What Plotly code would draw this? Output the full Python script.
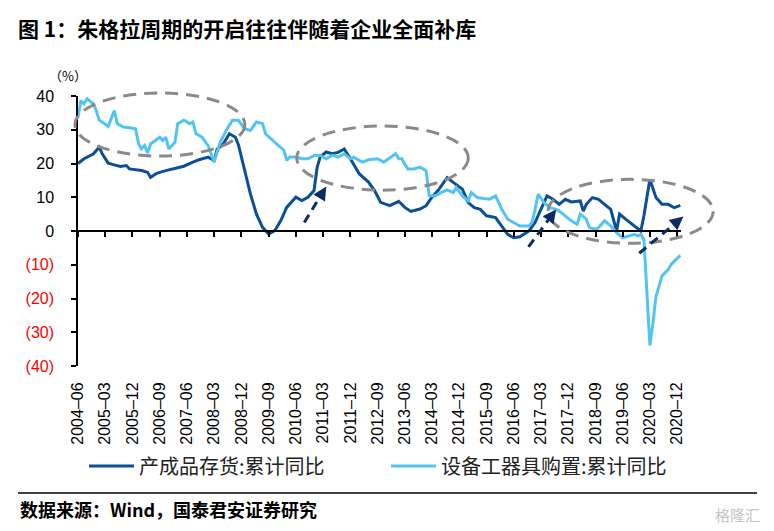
import plotly.graph_objects as go
import pandas as pd

# ---------------- data ----------------
inv_dates = ["2004-06", "2004-08", "2004-11", "2005-01", "2005-02", "2005-04", "2005-06", "2005-08",
             "2005-10", "2005-11", "2006-03", "2006-05", "2006-06", "2006-08", "2006-11", "2007-02",
             "2007-05", "2007-08", "2007-10", "2008-01", "2008-03", "2008-04", "2008-06", "2008-08",
             "2008-10", "2008-11", "2009-01", "2009-03", "2009-05", "2009-07", "2009-09", "2009-11",
             "2010-01", "2010-03", "2010-06", "2010-08", "2010-10", "2010-12", "2011-01", "2011-02",
             "2011-04", "2011-06", "2011-08", "2011-10", "2011-12", "2012-03", "2012-06", "2012-08",
             "2012-10", "2013-01", "2013-04", "2013-06", "2013-08", "2013-11", "2014-01", "2014-03",
             "2014-05", "2014-06", "2014-08", "2014-10", "2015-01", "2015-03", "2015-05", "2015-07",
             "2015-09", "2015-12", "2016-02", "2016-04", "2016-06", "2016-08", "2016-11", "2017-01",
             "2017-03", "2017-05", "2017-07", "2017-09", "2017-11", "2018-01", "2018-04", "2018-05",
             "2018-06", "2018-08", "2018-10", "2018-12", "2019-02", "2019-04", "2019-05", "2019-07",
             "2019-10", "2019-12", "2020-01", "2020-03", "2020-05", "2020-07", "2020-09", "2020-11",
             "2021-01"]
inv_values = [20.0, 21.4, 22.8, 24.8, 22.8, 20.1, 19.6, 19.1,
              19.4, 18.4, 17.9, 17.4, 15.9, 17.1, 17.9, 18.6,
              19.2, 20.4, 21.1, 21.9, 20.9, 24.3, 25.8, 28.8,
              27.8, 25.5, 17.9, 11.0, 5.0, 1.1, -0.9, 0.1,
              3.1, 7.0, 10.0, 9.0, 10.0, 12.0, 18.9, 21.9,
              23.4, 22.9, 23.3, 24.3, 21.4, 16.9, 14.5, 12.0,
              8.5, 7.5, 8.8, 7.0, 5.8, 6.5, 7.5, 10.0,
              12.0, 13.4, 15.8, 14.4, 12.4, 8.4, 6.9, 6.4,
              4.5, 4.0, 1.5, -1.0, -2.0, -1.7, 0.0, 2.5,
              6.4, 10.4, 9.4, 7.9, 9.4, 8.6, 8.9, 5.9,
              7.9, 9.9, 9.4, 7.9, 6.4, 0.0, 5.0, 3.5,
              1.5, 0.0, 4.5, 15.3, 9.9, 7.9, 7.9, 6.9,
              7.6]

eq_dates = ["2004-06", "2004-07", "2004-08", "2004-09", "2004-11", "2004-12", "2005-01", "2005-02",
            "2005-04", "2005-05", "2005-06", "2005-07", "2005-09", "2005-11", "2006-01", "2006-02",
            "2006-03", "2006-04", "2006-05", "2006-06", "2006-09", "2006-10", "2006-11", "2006-12",
            "2007-02", "2007-03", "2007-05", "2007-07", "2007-08", "2007-09", "2007-11", "2008-01",
            "2008-03", "2008-04", "2008-05", "2008-07", "2008-09", "2008-11", "2009-01", "2009-03",
            "2009-05", "2009-07", "2009-08", "2009-11", "2010-01", "2010-02", "2010-03", "2010-04",
            "2010-06", "2010-08", "2010-10", "2010-12", "2011-02", "2011-04", "2011-06", "2011-08",
            "2011-10", "2011-12", "2012-01", "2012-04", "2012-06", "2012-09", "2012-11", "2013-03",
            "2013-04", "2013-05", "2013-07", "2013-09", "2013-11", "2014-01", "2014-02", "2014-04",
            "2014-06", "2014-08", "2014-10", "2014-11", "2015-01", "2015-03", "2015-04", "2015-06",
            "2015-08", "2015-10", "2015-12", "2016-02", "2016-04", "2016-06", "2016-08", "2016-11",
            "2016-12", "2017-01", "2017-02", "2017-04", "2017-06", "2017-08", "2017-09", "2017-11",
            "2018-01", "2018-03", "2018-04", "2018-06", "2018-07", "2018-09", "2018-10", "2018-12",
            "2019-02", "2019-04", "2019-06", "2019-08", "2019-10", "2019-11", "2019-12", "2020-01",
            "2020-03", "2020-04", "2020-05", "2020-07", "2020-09", "2020-10", "2021-01"]
eq_values = [33.7, 38.7, 37.7, 39.2, 37.7, 35.7, 32.8, 32.3,
             31.0, 33.2, 35.7, 31.8, 30.8, 30.6, 30.3, 25.8,
             24.3, 25.3, 23.1, 25.8, 27.8, 26.8, 27.8, 24.3,
             26.3, 31.8, 32.8, 31.8, 32.3, 28.8, 27.8, 25.3,
             20.4, 23.4, 26.3, 29.8, 32.8, 32.8, 30.3, 29.8,
             32.3, 31.8, 28.8, 26.3, 24.8, 23.9, 20.9, 21.9,
             21.9, 21.4, 21.4, 22.4, 22.4, 21.4, 22.4, 21.9,
             22.9, 21.4, 21.9, 20.4, 21.1, 21.4, 20.4, 22.9,
             21.4, 21.4, 18.4, 18.4, 18.9, 17.9, 10.5, 10.4,
             11.4, 12.2, 11.4, 12.9, 10.4, 8.9, 11.4, 9.9,
             9.6, 9.4, 10.4, 6.4, 3.5, 2.5, 1.5, 1.5,
             2.5, 6.4, 10.9, 8.4, 6.9, 6.4, 5.9, 4.5,
             3.0, 2.0, 5.0, 3.5, 1.0, 0.5, 1.0, 3.0,
             1.5, -0.5, -2.0, -1.5, -1.0, -1.5, -1.0, -2.5,
             -33.9, -27.2, -19.5, -13.3, -11.4, -9.9, -7.2]

series_names = ["产成品存货:累计同比", "设备工器具购置:累计同比"]

x_tick_labels = ["2004-06", "2005-03", "2005-12", "2006-09", "2007-06", "2008-03", "2008-12",
                 "2009-09", "2010-06", "2011-03", "2011-12", "2012-09", "2013-06", "2014-03",
                 "2014-12", "2015-09", "2016-06", "2017-03", "2017-12", "2018-09", "2019-06",
                 "2020-03", "2020-12"]
y_tick_values = [40, 30, 20, 10, 0, -10, -20, -30, -40]

# decorations, in data terms (date, value)
ellipses = [("2004-05-01", "2009-01-04", 22.2, 40.9),
            ("2010-06-10", "2015-03-01", 12.1, 31.1),
            ("2017-05-12", "2021-11-28", -3.65, 15.3)]
arrows = [("2010-08-25", 2.5, "2011-04-03", 13.2),
          ("2016-10-27", -4.7, "2017-08-01", 6.4),
          ("2019-11-15", -6.6, "2021-02-01", 4.3)]

# ---------------- styling / geometry ----------------
FIG_W, FIG_H = 774, 531
L, T, W, H = 78, 96, 603, 270
X_START, X_END = "2004-06-01", "2021-01-08"
Y_MIN, Y_MAX = -40, 40
DARK = "#0B4F97"
LIGHT = "#52C4F2"
NAVY = "#0E2B63"
GRAY = "#8A8A8A"
CJK = "Noto Sans CJK SC"
NUM = "Liberation Sans, Arial"

x0t, x1t = pd.Timestamp(X_START), pd.Timestamp(X_END)


def fx(d):
    return (pd.Timestamp(d) - x0t) / (x1t - x0t)


def fy(v):
    return (v - Y_MIN) / (Y_MAX - Y_MIN)


def px_x(p):
    return (p - L) / W


def px_y(p):
    return (T + H - p) / H


def fmt_y(v):
    if v < 0:
        return '<span style="color:#FF0000">(%d)</span>' % (-v)
    return str(v)


tick_vals = [s + "-01" for s in x_tick_labels]
tick_text = [s.replace("-", "–") for s in x_tick_labels]

fig = go.Figure()
fig.add_trace(go.Scatter(x=[d + "-01" for d in inv_dates], y=inv_values, mode="lines",
                         name=series_names[0], line=dict(color=DARK, width=3),
                         xaxis="x", yaxis="y", legend="legend", showlegend=True))
fig.add_trace(go.Scatter(x=[d + "-01" for d in eq_dates], y=eq_values, mode="lines",
                         name=series_names[1], line=dict(color=LIGHT, width=3),
                         xaxis="x2", yaxis="y", legend="legend2", showlegend=True))

shapes = []
for (a, b, c, d) in ellipses:
    shapes.append(dict(type="circle", xref="paper", yref="paper",
                       x0=fx(a), x1=fx(b), y0=fy(c), y1=fy(d),
                       line=dict(color=GRAY, width=3, dash="13px,8px")))

annotations = []
for (td, tv, hd, hv) in arrows:
    ax0, ay0 = fx(td), fy(tv)
    ax1, ay1 = fx(hd), fy(hv)
    sx = (ax1 - ax0) * W
    sy = -(ay1 - ay0) * H
    ln = (sx ** 2 + sy ** 2) ** 0.5
    ux, uy = sx / ln, sy / ln
    back = 9
    ex = ax1 - ux * back / W
    ey = ay1 + uy * back / H
    shapes.append(dict(type="line", xref="paper", yref="paper",
                       x0=ax0, y0=ay0, x1=ex, y1=ey,
                       line=dict(color=NAVY, width=3, dash="9px,6px")))
    annotations.append(dict(xref="paper", yref="paper", x=ax1, y=ay1, text="",
                            showarrow=True, axref="pixel", ayref="pixel",
                            ax=-ux * 11, ay=-uy * 11, arrowhead=2, arrowsize=0.9,
                            arrowwidth=3, arrowcolor=NAVY, standoff=0))

# footer rule
shapes.append(dict(type="line", xref="paper", yref="paper",
                   x0=px_x(18), x1=px_x(757), y0=px_y(493), y1=px_y(493),
                   line=dict(color="black", width=1.3)))

annotations.append(dict(xref="paper", yref="paper", x=px_x(68), y=px_y(76),
                        text="（%）", showarrow=False, xanchor="center", yanchor="middle",
                        font=dict(family=CJK, size=13, color="black")))
annotations.append(dict(xref="paper", yref="paper", x=px_x(18), y=px_y(509),
                        text="<b>数据来源：Wind，国泰君安证券研究</b>", showarrow=False,
                        xanchor="left", yanchor="middle",
                        font=dict(family=CJK, size=18, color="black")))
annotations.append(dict(xref="paper", yref="paper", x=px_x(762), y=px_y(514),
                        text="格隆汇", showarrow=False, xanchor="right", yanchor="middle",
                        font=dict(family=CJK, size=15, color="#C4C4C4")))

fig.update_layout(
    width=FIG_W, height=FIG_H, showlegend=True,
    margin=dict(l=L, r=FIG_W - L - W, t=T, b=FIG_H - T - H, pad=0, autoexpand=False),
    paper_bgcolor="white", plot_bgcolor="white",
    title=dict(text="<b>图 1：朱格拉周期的开启往往伴随着企业全面补库</b>",
               x=18 / FIG_W, xref="container", xanchor="left",
               y=1 - 30 / FIG_H, yref="container", yanchor="middle",
               font=dict(family=CJK, size=21, color="black")),
    xaxis=dict(type="date", range=[X_START, X_END], tickvals=tick_vals, ticktext=tick_text,
               tickangle=-90, showline=False, showgrid=False, zeroline=False, automargin=False,
               ticks="outside", ticklen=9, tickcolor="rgba(0,0,0,0)",
               tickfont=dict(family=NUM, size=16, color="black")),
    xaxis2=dict(type="date", range=[X_START, X_END], tickvals=tick_vals, overlaying="x",
                anchor="free", position=fy(0), side="bottom", showline=True,
                linecolor="black", linewidth=1.5, ticks="outside", ticklen=5,
                tickwidth=1.5, tickcolor="black", showticklabels=False, automargin=False,
                showgrid=False, zeroline=False),
    yaxis=dict(range=[Y_MIN, Y_MAX], tickvals=y_tick_values,
               ticktext=[fmt_y(v) for v in y_tick_values], automargin=False,
               showline=True, linecolor="black", linewidth=1.5, ticks="outside",
               ticklen=5, tickwidth=1.5, tickcolor="black", showgrid=False, zeroline=False,
               ticklabelstandoff=14,
               tickfont=dict(family=NUM, size=16, color="black")),
    legend=dict(x=84 / FIG_W, y=1 - 466 / FIG_H, xref="container", yref="container",
                xanchor="left", yanchor="middle", orientation="h", itemwidth=45,
                font=dict(family=CJK, size=20, color="#222222"), bgcolor="rgba(0,0,0,0)"),
    legend2=dict(x=386 / FIG_W, y=1 - 466 / FIG_H, xref="container", yref="container",
                 xanchor="left", yanchor="middle", orientation="h", itemwidth=45,
                 font=dict(family=CJK, size=20, color="#222222"), bgcolor="rgba(0,0,0,0)"),
    shapes=shapes, annotations=annotations,
)

fig.write_html("out.html", config={"displayModeBar": False},
               post_script="document.body.style.margin='0px';document.body.style.padding='0px';")
